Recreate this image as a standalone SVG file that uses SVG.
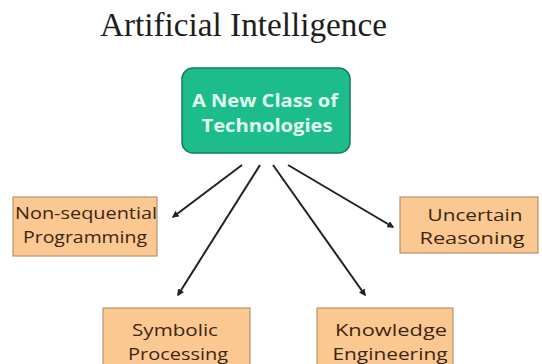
<svg xmlns="http://www.w3.org/2000/svg" width="542" height="364" viewBox="0 0 542 364">
<style>
.box{fill:#fcc891;stroke:#b89270;stroke-width:1.2}
.lbl{font-family:"Open Sans","Liberation Sans",sans-serif;font-size:17px;fill:#3a2614;text-anchor:middle}
.hd{font-family:"Open Sans","Liberation Sans",sans-serif;font-size:18px;font-weight:bold;fill:#e2fbef;text-anchor:middle}
.conn{stroke:#222;stroke-width:2;fill:none;marker-end:url(#ah)}
</style>
<defs>
<marker id="ah" viewBox="0 0 10 10" refX="8" refY="5" markerWidth="3.5" markerHeight="3.5" orient="auto">
<path d="M0,0 L10,5 L0,10 z" fill="#222"/>
</marker>
</defs>
<rect width="542" height="364" fill="#fff"/>
<text x="100" y="36" font-family="Liberation Serif,serif" font-size="33" fill="#1e1e1e" textLength="287" lengthAdjust="spacingAndGlyphs">Artificial Intelligence</text>
<g id="center">
<rect x="182" y="68" width="168" height="85" rx="11" fill="#1dbd8b" stroke="#167a5c" stroke-width="1.5"/>
<text class="hd" x="265" y="107" textLength="146" lengthAdjust="spacingAndGlyphs">A New Class of</text>
<text class="hd" x="267" y="132" textLength="131" lengthAdjust="spacingAndGlyphs">Technologies</text>
</g>
<g id="nonseq">
<rect class="box" x="13" y="197" width="144" height="59"/>
<text class="lbl" x="86" y="219" textLength="142" lengthAdjust="spacingAndGlyphs">Non-sequential</text>
<text class="lbl" x="85" y="243" textLength="124" lengthAdjust="spacingAndGlyphs">Programming</text>
</g>
<g id="uncertain">
<rect class="box" x="400" y="197" width="138" height="56"/>
<text class="lbl" x="475" y="221" textLength="95" lengthAdjust="spacingAndGlyphs">Uncertain</text>
<text class="lbl" x="472" y="244" textLength="105" lengthAdjust="spacingAndGlyphs">Reasoning</text>
</g>
<g id="symbolic">
<rect class="box" x="103" y="308" width="147" height="60"/>
<text class="lbl" x="175" y="336" textLength="86" lengthAdjust="spacingAndGlyphs">Symbolic</text>
<text class="lbl" x="178" y="360" textLength="100" lengthAdjust="spacingAndGlyphs">Processing</text>
</g>
<g id="knowledge">
<rect class="box" x="317" y="308" width="136" height="60"/>
<text class="lbl" x="391" y="336" textLength="112" lengthAdjust="spacingAndGlyphs">Knowledge</text>
<text class="lbl" x="390" y="360" textLength="115" lengthAdjust="spacingAndGlyphs">Engineering</text>
</g>
<g id="connectors">
<line class="conn" x1="242" y1="165" x2="173" y2="217"/>
<line class="conn" x1="260" y1="165" x2="178" y2="295"/>
<line class="conn" x1="273" y1="165" x2="365" y2="295"/>
<line class="conn" x1="288" y1="165" x2="393" y2="227"/>
</g>
</svg>
